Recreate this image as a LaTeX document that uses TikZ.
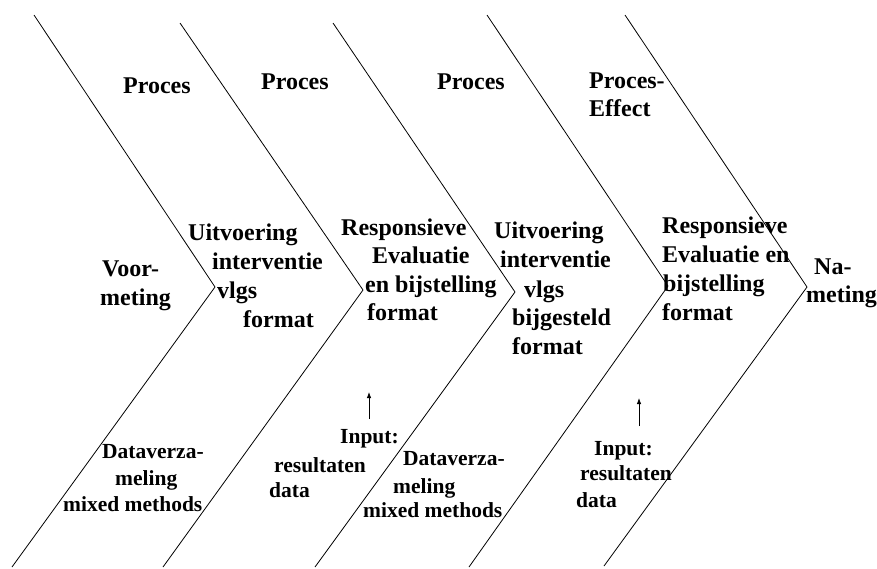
\documentclass[tikz,border=0pt]{standalone}
\usepackage{fontspec}
\setmainfont{Liberation Serif}
\usetikzlibrary{arrows.meta}
\tikzset{
  chev/.style={draw=black, line width=0.8pt, line join=miter},
  up/.style={font=\fontsize{24}{29}\selectfont\bfseries, anchor=base west, inner sep=0pt},
  low/.style={font=\fontsize{21.5}{27}\selectfont\bfseries, anchor=base west, inner sep=0pt},
  inarrow/.style={draw=black, line width=0.8pt, -{Latex[length=6pt,width=4.5pt]}}
}
\begin{document}
\begin{tikzpicture}[x=1pt,y=-1pt]
\useasboundingbox (0,0) rectangle (877,568);
% chevrons
\coordinate (t1) at (34,15);  \coordinate (a1) at (215,287); \coordinate (b1) at (12,567);
\coordinate (t2) at (180,23); \coordinate (a2) at (363,290); \coordinate (b2) at (163,567);
\coordinate (t3) at (333,23); \coordinate (a3) at (515,292); \coordinate (b3) at (315,567);
\coordinate (t4) at (487,15); \coordinate (a4) at (668,286); \coordinate (b4) at (469,567);
\coordinate (t5) at (625,15); \coordinate (a5) at (807,287); \coordinate (b5) at (604,566);
\draw[chev] (t1) -- (a1) -- (b1);
\draw[chev] (t2) -- (a2) -- (b2);
\draw[chev] (t3) -- (a3) -- (b3);
\draw[chev] (t4) -- (a4) -- (b4);
\draw[chev] (t5) -- (a5) -- (b5);
% top labels
\node[up] (p1) at (123,93) {Proces};
\node[up] (p2) at (261,89) {Proces};
\node[up] (p3) at (437,89) {Proces};
\node[up] (p4a) at (589,88) {Proces-};
\node[up] (p4b) at (589,116) {Effect};
% Voormeting
\node[up] (v1) at (102,276) {Voor-};
\node[up] (v2) at (100,305) {meting};
% Uitvoering 1
\node[up] (u1) at (188,240) {Uitvoering};
\node[up] (u2) at (212,269) {interventie};
\node[up] (u3) at (217,298) {vlgs};
\node[up] (u4) at (243,327) {format};
% Responsieve 1
\node[up] (r1) at (341,235) {Responsieve};
\node[up] (r2) at (372,263) {Evaluatie};
\node[up] (r3) at (365,292) {en bijstelling};
\node[up] (r4) at (367,320) {format};
% Uitvoering 2
\node[up] (w1) at (494,238) {Uitvoering};
\node[up] (w2) at (500,267) {interventie};
\node[up] (w3) at (524,297) {vlgs};
\node[up] (w4) at (512,325) {bijgesteld};
\node[up] (w5) at (512,354) {format};
% Responsieve 2
\node[up] (s1) at (662,233) {Responsieve};
\node[up] (s2) at (662,262) {Evaluatie en};
\node[up] (s3) at (663,291) {bijstelling};
\node[up] (s4) at (662,320) {format};
% Nameting
\node[up] (n1) at (814,274) {Na-};
\node[up] (n2) at (806,302) {meting};
% bottom: Dataverzameling 1
\node[low] (d1) at (102,458) {Dataverza-};
\node[low] (d2) at (115,485) {meling};
\node[low] (d3) at (63,511) {mixed methods};
% Input 1
\node[low] (i1) at (340,443) {Input:};
\node[low] (i2) at (274,472) {resultaten};
\node[low] (i3) at (269,497) {data};
\coordinate (ia1) at (369,419);
\coordinate (ib1) at (369,392);
\draw[inarrow] (ia1) -- (ib1);
% Dataverzameling 2
\node[low] (e1) at (403,465) {Dataverza-};
\node[low] (e2) at (393,493) {meling};
\node[low] (e3) at (363,517) {mixed methods};
% Input 2
\node[low] (j1) at (594,455) {Input:};
\node[low] (j2) at (580,480) {resultaten};
\node[low] (j3) at (576,507) {data};
\coordinate (ia2) at (639,426);
\coordinate (ib2) at (639,398);
\draw[inarrow] (ia2) -- (ib2);
\end{tikzpicture}
\end{document}
